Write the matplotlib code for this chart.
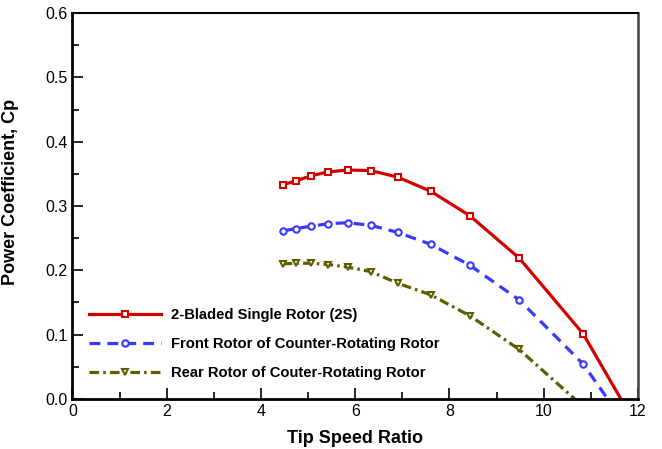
import matplotlib
matplotlib.use("Agg")
import matplotlib.pyplot as plt
from matplotlib.ticker import MultipleLocator

plt.rcParams['font.family'] = ['Liberation Sans', 'DejaVu Sans']

tsr = [4.46, 4.74, 5.06, 5.43, 5.84, 6.33, 6.90, 7.60, 8.43, 9.48, 10.84, 12.0]
cp_single = [0.333, 0.339, 0.347, 0.353, 0.356, 0.355, 0.345, 0.323, 0.285, 0.219, 0.101, -0.046]
cp_front = [0.261, 0.265, 0.2685, 0.2725, 0.274, 0.270, 0.259, 0.2405, 0.208, 0.154, 0.054, -0.067]
cp_rear = [0.210, 0.211, 0.211, 0.209, 0.205, 0.198, 0.180, 0.162, 0.1295, 0.077, -0.012]
labels = ["2-Bladed Single Rotor (2S)",
          "Front Rotor of Counter-Rotating Rotor",
          "Rear Rotor of Couter-Rotating Rotor"]

fig = plt.figure(figsize=(6.62, 4.49), dpi=100)
ax = fig.add_axes([0.1095, 0.1114, 0.8542, 0.8596])

mk = dict(ms=4.6, mfc='white', mew=1.5)
ax.plot(tsr, cp_single, color='#d40000', lw=2.3, marker='s', mec='#d40000',
        markevery=list(range(len(tsr) - 1)), label=labels[0], **mk)
ax.plot(tsr, cp_front, color='#3838ff', lw=2.3, ls=(0, (3.4, 2.2)), marker='o',
        mec='#3838ff', markevery=list(range(len(tsr) - 1)), label=labels[1], **mk)
ax.plot(tsr[:len(cp_rear)], cp_rear, color='#5e5e00', lw=2.3, ls=(0, (3, 1.3, 0.8, 1.3)),
        marker='v', mec='#5e5e00', markevery=list(range(len(cp_rear) - 1)),
        label=labels[2], **mk)

ax.set_xlim(0, 12)
ax.set_ylim(0, 0.6)
ax.xaxis.set_major_locator(MultipleLocator(2))
ax.xaxis.set_minor_locator(MultipleLocator(1))
ax.yaxis.set_major_locator(MultipleLocator(0.1))
ax.yaxis.set_minor_locator(MultipleLocator(0.05))
ax.yaxis.set_major_formatter(matplotlib.ticker.FormatStrFormatter('%.1f'))
ax.tick_params(which='both', direction='in', top=False, right=False, labelsize=11.5, width=1.2)
ax.tick_params(which='major', length=8)
ax.tick_params(which='minor', length=5)
for s in ['left', 'bottom']:
    ax.spines[s].set_linewidth(2)
ax.spines['top'].set_linewidth(1.5)
ax.spines['right'].set_linewidth(1.8)
ax.spines['right'].set_color('#444444')

ax.set_xlabel('Tip Speed Ratio', fontsize=13, fontweight='bold', labelpad=8)
ax.set_ylabel('Power Coefficient, Cp', fontsize=13, fontweight='bold')
ax.yaxis.set_label_coords(-0.095, 0.536)

leg = ax.legend(loc='upper left', bbox_to_anchor=(0.018, 0.25), frameon=False,
                prop={'weight': 'bold', 'size': 10.6}, handlelength=4.9,
                labelspacing=1.0, handletextpad=0.7, borderaxespad=0)

fig.savefig('out.png', dpi=100)
